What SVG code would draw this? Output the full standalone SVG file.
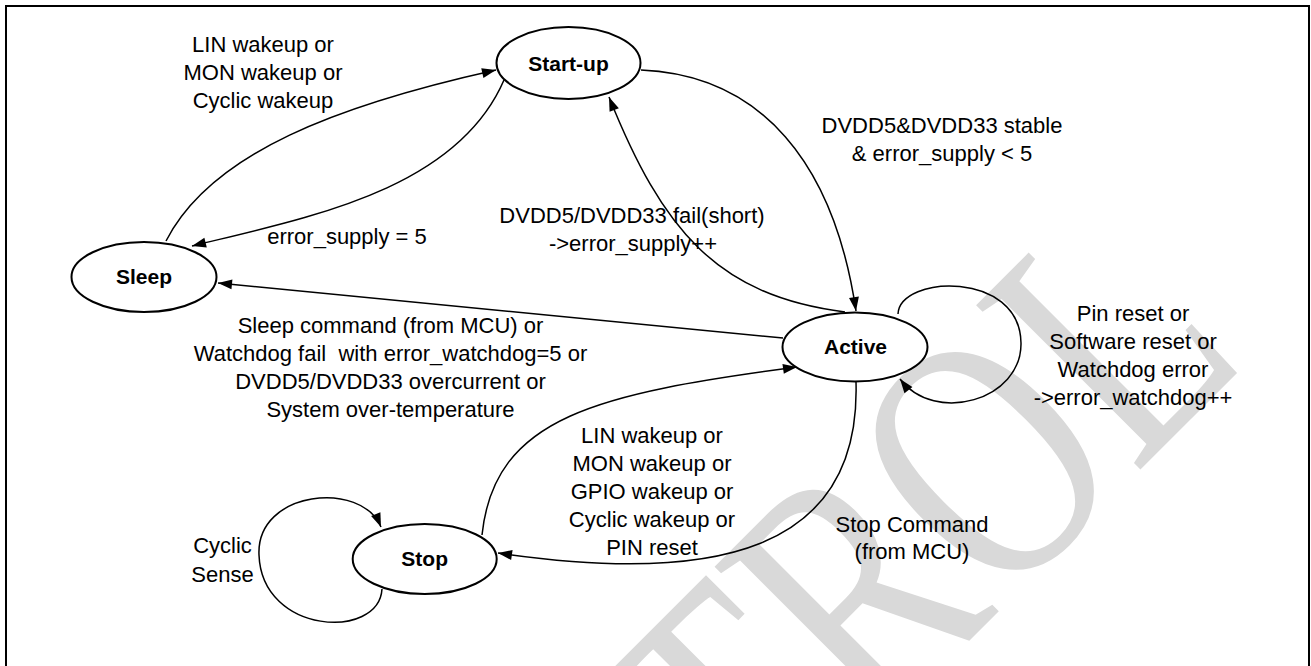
<svg xmlns="http://www.w3.org/2000/svg" width="1311" height="666" viewBox="0 0 1311 666">
<style>
.frame{fill:none;stroke:#000;stroke-width:2}
.node ellipse{fill:#fff;stroke:#000;stroke-width:2}
.node text{font-family:"Liberation Sans",Arial,sans-serif;font-size:21px;font-weight:bold;text-anchor:middle;fill:#000}
.edge{fill:none;stroke:#000;stroke-width:1.5;marker-end:url(#arr)}
.lbl{font-family:"Liberation Sans",Arial,sans-serif;font-size:22px;text-anchor:middle;fill:#000;white-space:pre}
.wm{font-family:"Liberation Serif","Times New Roman",serif;font-size:355px;fill:#d9d9d9}
</style>
<defs>
<marker id="arr" markerUnits="userSpaceOnUse" markerWidth="15" markerHeight="10" refX="14" refY="5" orient="auto" overflow="visible">
<path d="M0,0 L14,5 L0,10 z" fill="#000"/>
</marker>
</defs>
<rect width="1311" height="666" fill="#fff"/>
<text class="wm" transform="translate(758.5,851.5) rotate(-45) scale(0.75,1)">TROL</text>
<rect class="frame" x="6" y="6" width="1303" height="700"/>

<g id="connectors">
<path id="e-sleep-startup" class="edge" d="M166,241 C211.6,152 340,104.7 496,70"/>
<path id="e-startup-sleep" class="edge" d="M504,80 C456.4,190.2 308.5,217.4 192,246"/>
<path id="e-startup-active" class="edge" d="M641,70 C761,75 834,162.6 856,311"/>
<path id="e-active-startup" class="edge" d="M845,312 C716.3,295.6 662.2,229.5 609,97"/>
<path id="e-active-sleep" class="edge" d="M783,338 L218,283"/>
<path id="e-stop-active" class="edge" d="M482,535 C494.5,415.6 598.8,393.6 797,367"/>
<path id="e-active-stop" class="edge" d="M856,382 C861.1,552 715.6,584.9 498,553"/>
<path id="e-active-loop" class="edge" d="M898,314 C900,275 1020,270 1021,343 C1022,400 935,425 900,379"/>
<path id="e-stop-loop" class="edge" d="M382,589 C379,640 262,635 259,555 C256,490 362,480 381,527"/>
</g>

<g id="edge-labels">
<text class="lbl" x="263" y="51.5">LIN wakeup or</text>
<text class="lbl" x="263" y="79.5">MON wakeup or</text>
<text class="lbl" x="263" y="107.5">Cyclic wakeup</text>
<text class="lbl" x="347" y="244">error_supply = 5</text>
<text class="lbl" x="632" y="223">DVDD5/DVDD33 fail(short)</text>
<text class="lbl" x="633" y="251">-&gt;error_supply++</text>
<text class="lbl" x="942" y="133">DVDD5&amp;DVDD33 stable</text>
<text class="lbl" x="942" y="161">&amp; error_supply &lt; 5</text>
<text class="lbl" x="390.5" y="333">Sleep command (from MCU) or</text>
<text class="lbl" x="390.5" y="361">Watchdog fail  with error_watchdog=5 or</text>
<text class="lbl" x="390.5" y="389">DVDD5/DVDD33 overcurrent or</text>
<text class="lbl" x="390.5" y="417">System over-temperature</text>
<text class="lbl" x="1133" y="321">Pin reset or</text>
<text class="lbl" x="1133" y="349">Software reset or</text>
<text class="lbl" x="1133" y="377">Watchdog error</text>
<text class="lbl" x="1133" y="405">-&gt;error_watchdog++</text>
<text class="lbl" x="652" y="443">LIN wakeup or</text>
<text class="lbl" x="652" y="471">MON wakeup or</text>
<text class="lbl" x="652" y="499">GPIO wakeup or</text>
<text class="lbl" x="652" y="527">Cyclic wakeup or</text>
<text class="lbl" x="652" y="555">PIN reset</text>
<text class="lbl" x="912" y="531.5">Stop Command</text>
<text class="lbl" x="912" y="559">(from MCU)</text>
<text class="lbl" x="222.5" y="553">Cyclic</text>
<text class="lbl" x="222.5" y="581.5">Sense</text>
</g>

<g id="node-startup" class="node">
<ellipse cx="568.5" cy="63" rx="72" ry="36"/>
<text x="568.5" y="70.5">Start-up</text>
</g>
<g id="node-sleep" class="node">
<ellipse cx="144" cy="277" rx="72.5" ry="35"/>
<text x="144" y="284">Sleep</text>
</g>
<g id="node-active" class="node">
<ellipse cx="855" cy="347" rx="72.5" ry="34.5"/>
<text x="855.5" y="354">Active</text>
</g>
<g id="node-stop" class="node">
<ellipse cx="424.7" cy="559" rx="72" ry="35"/>
<text x="424.7" y="566">Stop</text>
</g>
</svg>
